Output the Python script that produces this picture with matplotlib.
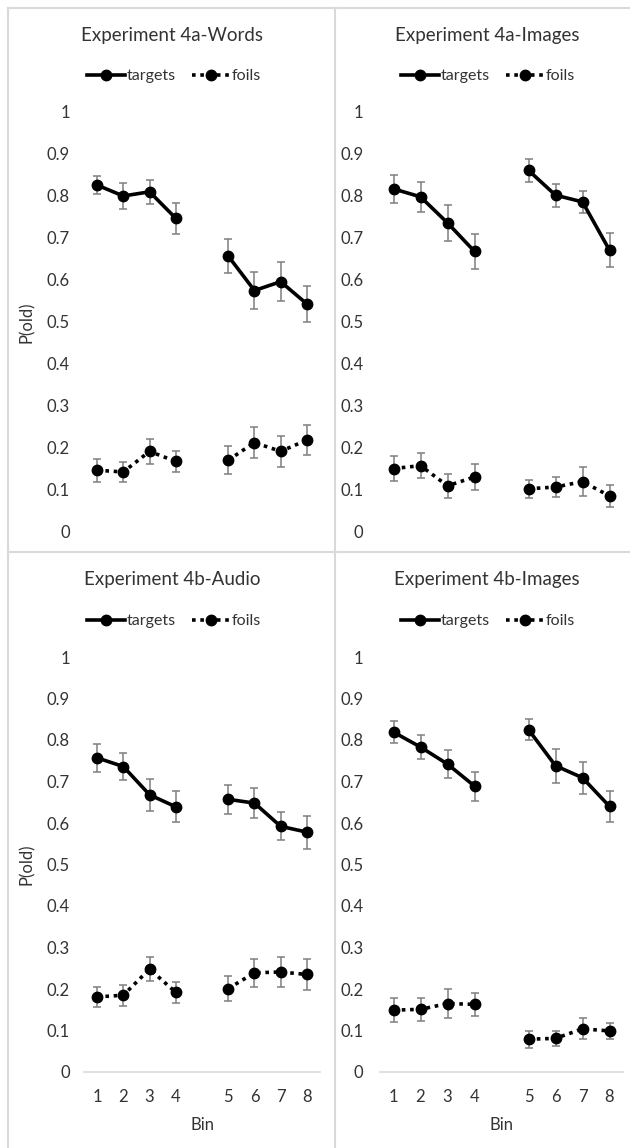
import numpy as np
import matplotlib.pyplot as plt
from matplotlib.lines import Line2D

plt.rcParams['font.family'] = ['Lato', 'DejaVu Sans']

# Datos
bins = [1, 2, 3, 4, 5, 6, 7, 8]
titles = ["Experiment 4a-Words", "Experiment 4a-Images",
          "Experiment 4b-Audio", "Experiment 4b-Images"]

targets_4a_words = [0.826, 0.800, 0.810, 0.747, 0.657, 0.575, 0.596, 0.543]
targets_4a_words_err = [0.022, 0.031, 0.028, 0.037, 0.041, 0.045, 0.046, 0.042]
foils_4a_words = [0.147, 0.143, 0.192, 0.168, 0.171, 0.213, 0.192, 0.219]
foils_4a_words_err = [0.028, 0.023, 0.030, 0.026, 0.034, 0.037, 0.037, 0.036]

targets_4a_images = [0.817, 0.798, 0.736, 0.668, 0.861, 0.802, 0.786, 0.671]
targets_4a_images_err = [0.034, 0.035, 0.043, 0.041, 0.028, 0.027, 0.027, 0.040]
foils_4a_images = [0.151, 0.158, 0.110, 0.131, 0.103, 0.107, 0.120, 0.086]
foils_4a_images_err = [0.029, 0.030, 0.028, 0.030, 0.022, 0.023, 0.035, 0.026]

targets_4b_audio = [0.757, 0.736, 0.668, 0.639, 0.657, 0.648, 0.592, 0.578]
targets_4b_audio_err = [0.033, 0.032, 0.038, 0.037, 0.035, 0.036, 0.034, 0.040]
foils_4b_audio = [0.181, 0.185, 0.248, 0.192, 0.201, 0.239, 0.241, 0.235]
foils_4b_audio_err = [0.025, 0.025, 0.029, 0.026, 0.030, 0.033, 0.035, 0.037]

targets_4b_images = [0.819, 0.783, 0.742, 0.689, 0.825, 0.738, 0.709, 0.640]
targets_4b_images_err = [0.027, 0.029, 0.033, 0.035, 0.026, 0.041, 0.038, 0.037]
foils_4b_images = [0.149, 0.151, 0.165, 0.163, 0.079, 0.081, 0.104, 0.099]
foils_4b_images_err = [0.029, 0.028, 0.034, 0.028, 0.020, 0.019, 0.025, 0.020]

paneles = [
    (targets_4a_words, targets_4a_words_err, foils_4a_words, foils_4a_words_err),
    (targets_4a_images, targets_4a_images_err, foils_4a_images, foils_4a_images_err),
    (targets_4b_audio, targets_4b_audio_err, foils_4b_audio, foils_4b_audio_err),
    (targets_4b_images, targets_4b_images_err, foils_4b_images, foils_4b_images_err),
]

W, H = 630, 1148
fig = plt.figure(figsize=(W / 100, H / 100), dpi=100)

texto = '#333333'
gris_borde = '#d9d9d9'

# posiciones en píxeles: (izq, der) y (arriba y=1, abajo y=0)
cols = [(84, 320), (380, 623)]
rows = [(112, 532), (657, 1072)]
title_y = [36, 580]
legend_y = [76, 621]
title_x = [172, 487]
legend_x = [174, 488]
ypad = [10, 12]

# posición de cada bin en el eje (hueco entre 4 y 5)
pos = np.array([b if b <= 4 else b + 1 for b in bins])

for i, (tg, tg_e, fo, fo_e) in enumerate(paneles):
    r, c = divmod(i, 2)
    x0, x1 = cols[c]
    yt, yb = rows[r]
    ax = fig.add_axes([x0 / W, 1 - yb / H, (x1 - x0) / W, (yb - yt) / H])

    for serie, err, ls in [(tg, tg_e, '-'), (fo, fo_e, (0, (1, 1.3)))]:
        serie = np.array(serie)
        err = np.array(err)
        ax.errorbar(pos, serie, yerr=err, fmt='none', ecolor='#7f7f7f',
                    elinewidth=1.1, capsize=3, capthick=1.1, zorder=2)
        for sl in [slice(0, 4), slice(4, 8)]:
            ax.plot(pos[sl], serie[sl], color='black', lw=2.6, ls=ls,
                    marker='o', markersize=7.5, zorder=3, clip_on=False)

    ax.set_xlim(0.5, 9.5)
    ax.set_ylim(0, 1)
    ax.set_yticks(np.arange(0, 1.01, 0.1))
    ax.set_yticklabels([f"{v:g}" for v in np.round(np.arange(0, 1.01, 0.1), 1)])
    ax.tick_params(axis='y', length=0, pad=ypad[c], labelsize=12, labelcolor=texto)
    for s in ['top', 'right', 'left']:
        ax.spines[s].set_visible(False)
    if r == 1:
        ax.spines['bottom'].set_color(gris_borde)
        ax.spines['bottom'].set_linewidth(1.2)
        ax.set_xticks(pos)
        ax.set_xticklabels([str(b) for b in bins])
        ax.tick_params(axis='x', length=0, pad=12, labelsize=12, labelcolor=texto)
        ax.set_xlabel('Bin', fontsize=12, color=texto, labelpad=9)
    else:
        ax.spines['bottom'].set_visible(False)
        ax.set_xticks([])
    if c == 0:
        fig.text(27 / W, 1 - (yt + yb) / 2 / H, 'P(old)', rotation=90,
                 ha='center', va='center', fontsize=12, color=texto)

    fig.text(title_x[c] / W, 1 - title_y[r] / H, titles[i], ha='center',
             va='center', fontsize=13.5, color=texto)
    handles = [
        Line2D([], [], color='black', lw=2.6, ls='-', marker='o', markersize=7.5),
        Line2D([], [], color='black', lw=2.6, ls=(0, (1, 1.3)), marker='o', markersize=7.5),
    ]
    fig.legend(handles, ['targets', 'foils'], loc='center',
               bbox_to_anchor=(legend_x[c] / W, 1 - legend_y[r] / H),
               ncol=2, frameon=False, fontsize=11.5, labelcolor=texto,
               handlelength=2.4, handletextpad=0.1, columnspacing=1.0)

# bordes de los paneles
bordes = [
    ([8, W], [8, 8]),
    ([8, 8], [8, H]),
    ([335, 335], [8, H]),
    ([8, W], [552, 552]),
]
for xs, ys in bordes:
    fig.add_artist(Line2D([x / W for x in xs], [1 - y / H for y in ys],
                          color=gris_borde, lw=1.5))

fig.savefig('out.png', dpi=100)
